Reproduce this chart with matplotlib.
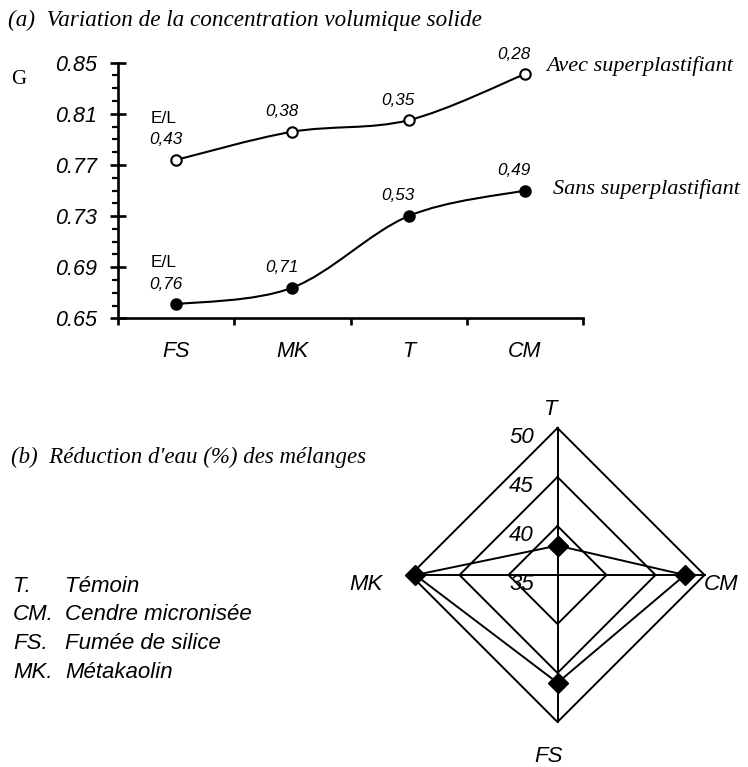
import numpy as np
import matplotlib
matplotlib.use('Agg')
import matplotlib.pyplot as plt
from matplotlib.path import Path
from matplotlib.patches import PathPatch
from matplotlib.ticker import MultipleLocator, FixedLocator, NullFormatter, FormatStrFormatter

# (a) compacite G des mélanges, avec / sans superplastifiant
ajouts = ['FS', 'MK', 'T', 'CM']
g_avec = [0.774, 0.796, 0.805, 0.841]
g_sans = [0.661, 0.674, 0.730, 0.750]
el_avec = ['0,43', '0,38', '0,35', '0,28']
el_sans = ['0,76', '0,71', '0,53', '0,49']
g_ticks = [0.65, 0.69, 0.73, 0.77, 0.81, 0.85]

# (b) réduction d'eau (%) - radar
radar_axes = ['T', 'CM', 'FS', 'MK']
reduction = [38, 48, 46, 49.5]
radar_rings = [40, 45, 50]
radar_min = 35

legende_abr = ['T.', 'CM.', 'FS.', 'MK.']
legende_nom = ['Témoin', 'Cendre micronisée', 'Fumée de silice', 'Métakaolin']

plt.rcParams['font.family'] = ['Liberation Sans', 'DejaVu Sans']
plt.rcParams['font.style'] = 'italic'

W, H = 748, 767
fig = plt.figure(figsize=(W / 100, H / 100), dpi=100)


def px(x, y):
    # pixel (haut-gauche) -> fraction de figure
    return x / W, 1 - y / H


def smooth_path(x, y):
    # courbe lissée type tableur (Catmull-Rom en Bezier)
    pts = np.column_stack([x, y]).astype(float)
    ext = np.vstack([pts[0], pts, pts[-1]])
    verts = [pts[0]]
    codes = [Path.MOVETO]
    for i in range(len(pts) - 1):
        p0, p1, p2, p3 = ext[i], ext[i + 1], ext[i + 2], ext[i + 3]
        verts += [p1 + (p2 - p0) / 6, p2 - (p3 - p1) / 6, p2]
        codes += [Path.CURVE4] * 3
    return Path(verts, codes)


serif = dict(family='Liberation Serif', style='italic')

# ---------- (a) ----------
ax = fig.add_axes([118.3 / W, 1 - 318.3 / H, 464.4 / W, 255.6 / H])
x = np.arange(len(ajouts))
for vals, face, labels in [(g_avec, 'white', el_avec), (g_sans, 'black', el_sans)]:
    ax.add_patch(PathPatch(smooth_path(x, vals), fill=False, lw=1.5, ec='black', zorder=2))
    ax.plot(x, vals, 'o', ms=7.5, mfc=face, mec='black', mew=1.5, zorder=3, clip_on=False)
    for xi, v, lab in zip(x, vals, labels):
        ax.annotate(lab, xy=(xi, v), xytext=(-7.5, 14.5), textcoords='offset points',
                    ha='center', va='center', fontsize=12.3)
    ax.annotate('E/L', xy=(x[0], vals[0]), xytext=(-9, 30), textcoords='offset points',
                ha='center', va='center', fontsize=12.5, style='normal')

ax.set_xlim(-0.5, 3.5)
ax.set_ylim(g_ticks[0], g_ticks[-1])
ax.spines['top'].set_visible(False)
ax.spines['right'].set_visible(False)
ax.spines['left'].set_linewidth(1.9)
ax.spines['bottom'].set_linewidth(1.9)
ax.xaxis.set_major_locator(FixedLocator(np.arange(-0.5, 4, 1)))
ax.xaxis.set_major_formatter(NullFormatter())
ax.xaxis.set_minor_locator(FixedLocator(x))
ax.set_xticklabels(ajouts, minor=True, fontsize=15.5)
ax.tick_params(axis='x', which='major', direction='out', length=5, width=1.9)
ax.tick_params(axis='x', which='minor', length=0, pad=16)
ax.yaxis.set_major_locator(FixedLocator(g_ticks))
ax.yaxis.set_minor_locator(MultipleLocator(0.01))
ax.yaxis.set_major_formatter(FormatStrFormatter('%.2f'))
ax.tick_params(axis='y', which='major', direction='inout', length=11, width=1.9,
               labelsize=15.5, pad=10)
ax.tick_params(axis='y', which='minor', direction='out', length=4, width=1.6)

fig.text(*px(8, 26), '(a)  Variation de la concentration volumique solide',
         fontsize=16.7, va='baseline', **serif)
fig.text(*px(11, 80), 'G', family='Liberation Serif', style='normal', fontsize=15, va='center')
fig.text(*px(546.7, 70.7), 'Avec superplastifiant', fontsize=16, va='baseline', **serif)
fig.text(*px(552.7, 194), 'Sans superplastifiant', fontsize=16, va='baseline', **serif)

# ---------- (b) ----------
rax = fig.add_axes([410.5 / W, 1 - 722 / H, 294 / W, 294 / H], projection='polar')
rax.set_theta_offset(np.pi / 2)
rax.set_theta_direction(-1)
rax.set_ylim(radar_min, radar_rings[-1])
rax.set_axis_off()

theta = np.arange(len(radar_axes)) * 2 * np.pi / len(radar_axes)
closed = np.append(theta, theta[0])
for r in radar_rings:
    rax.plot(closed, [r] * len(closed), color='black', lw=1.4, clip_on=False)
for t in theta:
    rax.plot([t, t], [radar_min, radar_rings[-1]], color='black', lw=1.4, clip_on=False)
rax.plot(closed, reduction + [reduction[0]], color='black', lw=1.4, marker='D', ms=10,
         clip_on=False, zorder=3)

for r in [radar_min] + radar_rings:
    rax.annotate(str(r), xy=(0, r), xytext=(-26, -7), textcoords='offset points',
                 ha='center', va='center', fontsize=16)

label_offsets = [(-5, 13), (12, -6.5), (-6.5, -24.5), (-31.7, -7.2)]
for t, lab, off in zip(theta, radar_axes, label_offsets):
    rax.annotate(lab, xy=(t, radar_rings[-1]), xytext=off, textcoords='offset points',
                 ha='center', va='center', fontsize=16)

fig.text(*px(11, 463), "(b)  Réduction d'eau (%) des mélanges", fontsize=16.5,
         va='baseline', **serif)

for i, (abr, nom) in enumerate(zip(legende_abr, legende_nom)):
    y = 586 + i * 28.7
    fig.text(*px(13, y), abr, fontsize=16, va='center')
    fig.text(*px(65, y), nom, fontsize=16, va='center')

fig.savefig('out.png', dpi=100)
